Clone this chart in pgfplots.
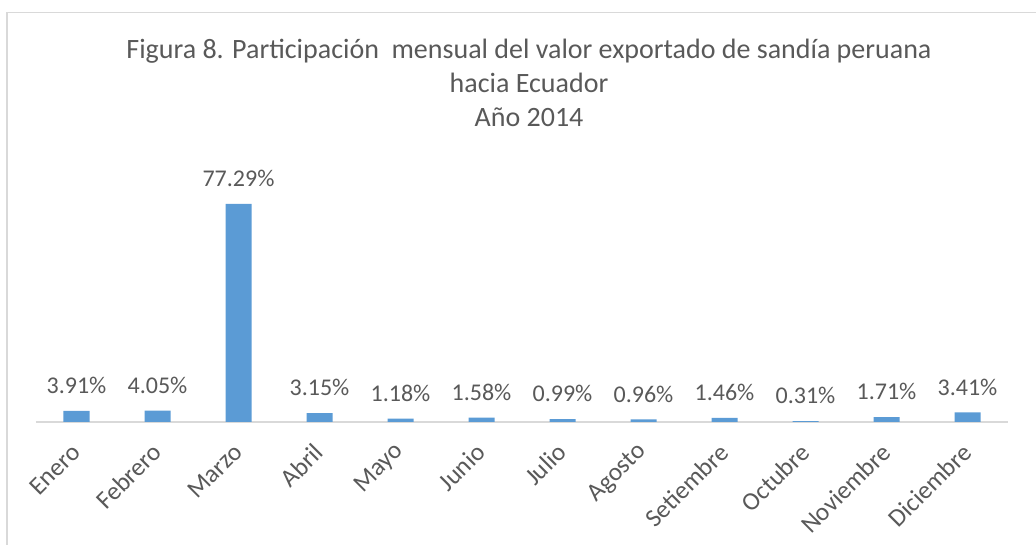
\documentclass[border=0pt]{standalone}
\usepackage{pgfplots}
\pgfplotsset{compat=1.18}
\usepackage{fontspec}
\setmainfont{Carlito}
\definecolor{barblue}{HTML}{5B9BD5}
\definecolor{txt}{HTML}{595959}
\definecolor{lgray}{HTML}{D9D9D9}
\begin{document}
\begin{tikzpicture}[x=0.75pt,y=0.75pt]
\draw[lgray, line width=1.2pt] (7,532.3) rectangle (1045,-10);
\node[anchor=base, text=txt, font=\fontsize{21}{25}\selectfont] at (529,486) {Figura 8. Participación\ \ mensual del valor exportado de sandía peruana};
\node[anchor=base, text=txt, font=\fontsize{21}{25}\selectfont] at (529,452) {hacia Ecuador};
\node[anchor=base, text=txt, font=\fontsize{21}{25}\selectfont] at (529,418) {Año 2014};
\begin{axis}[
  at={(27pt,92.25pt)}, anchor=south west,
  scale only axis, width=729pt, height=190.4pt,
  xmin=-0.5, xmax=11.5, ymin=0, ymax=90,
  axis y line=none, axis x line*=bottom,
  x axis line style={draw=lgray, line width=1.2pt},
  xtick=data, major tick length=0pt,
  xticklabels={Enero,Febrero,Marzo,Abril,Mayo,Junio,Julio,Agosto,Setiembre,Octubre,Noviembre,Diciembre},
  xticklabel style={xshift=2pt, yshift=-17pt, rotate=45, anchor=east, text=txt, font=\fontsize{19}{22}\selectfont},
  ybar, bar width=19.5pt,
  /pgf/number format/.cd, fixed, fixed zerofill, precision=2, assume math mode=true, /pgfplots/.cd,
  nodes near coords={\pgfmathprintnumber{\pgfplotspointmeta}\%},
  every node near coord/.append style={anchor=center, yshift=19pt, text=txt, font=\fontsize{18}{21}\selectfont},
  clip=false,
]
\addplot[fill=barblue, draw=none] coordinates {
(0,3.91) (1,4.05) (2,77.29) (3,3.15) (4,1.18) (5,1.58)
(6,0.99) (7,0.96) (8,1.46) (9,0.31) (10,1.71) (11,3.41)
};
\end{axis}
\pgfresetboundingbox
\path[use as bounding box] (0pt,0pt) rectangle (777pt,408.75pt);
\end{tikzpicture}
\end{document}
